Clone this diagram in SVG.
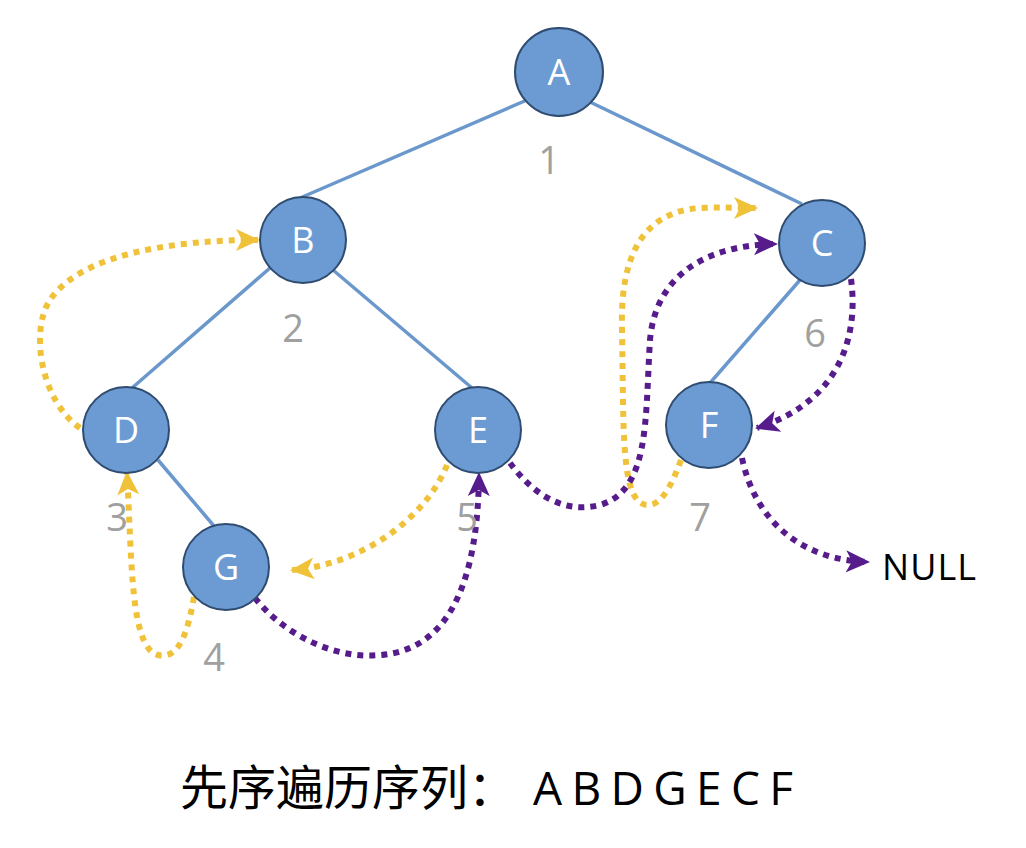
<svg xmlns="http://www.w3.org/2000/svg" width="1026" height="848" viewBox="0 0 1026 848">
<style>
.edge{stroke:#6b98cc;stroke-width:3.5;fill:none}
.node circle{fill:#6b9bd2;stroke:#2f4c70;stroke-width:2}
.node text{fill:#fff;font-family:"Open Sans","Noto Sans",sans-serif;font-size:36px;text-anchor:middle}
.num{fill:#a0a0a0;font-family:"Open Sans","Noto Sans",sans-serif;font-size:38px;text-anchor:middle}
.y{stroke:#f0c23a;stroke-width:6;stroke-dasharray:6 6;fill:none;marker-end:url(#ay)}
.p{stroke:#561c8c;stroke-width:6;stroke-dasharray:6 6;fill:none;marker-end:url(#ap)}
</style>
<defs>
<marker id="ay" markerUnits="userSpaceOnUse" markerWidth="26" markerHeight="24" refX="22" refY="11" orient="auto" viewBox="0 0 26 22">
<path d="M0,0 L24,11 L0,22 L6,11 Z" fill="#f0c23a"/>
</marker>
<marker id="ap" markerUnits="userSpaceOnUse" markerWidth="26" markerHeight="24" refX="22" refY="11" orient="auto" viewBox="0 0 26 22">
<path d="M0,0 L24,11 L0,22 L6,11 Z" fill="#561c8c"/>
</marker>
</defs>
<rect width="1026" height="848" fill="#fff"/>
<g id="edges">
<line class="edge" x1="527" y1="100" x2="300" y2="198"/>
<line class="edge" x1="590" y1="102" x2="802" y2="204"/>
<line class="edge" x1="270" y1="268" x2="132" y2="388"/>
<line class="edge" x1="333" y1="270" x2="472" y2="388"/>
<line class="edge" x1="800" y1="280" x2="710" y2="383"/>
<line class="edge" x1="158" y1="460" x2="214" y2="526"/>
</g>
<g id="connectors">
<path class="y" d="M80,428 C40,400 30,330 50,300 C80,255 170,240 258,240"/>
<path class="y" d="M194,597 C188,630 180,660 158,655 C130,648 132,560 127,473"/>
<path class="y" d="M447,465 C425,520 360,565 292,570"/>
<path class="y" d="M681,460 C670,490 660,505 648,505 C620,505 624,430 622,330 C620,260 640,212 700,208 C720,207 740,208 756,208"/>
<path class="p" d="M255,598 C280,630 330,660 380,655 C450,650 478,580 479,474"/>
<path class="p" d="M510,463 C530,490 560,515 600,505 C650,490 645,420 650,340 C655,280 700,245 776,244"/>
<path class="p" d="M851,279 C858,330 845,400 757,428"/>
<path class="p" d="M742,458 C755,520 800,560 868,562"/>
</g>
<g id="A" class="node"><circle cx="559" cy="72" r="44"/><text x="559" y="85">A</text></g>
<g id="B" class="node"><circle cx="303" cy="240" r="43"/><text x="303" y="253">B</text></g>
<g id="C" class="node"><circle cx="822" cy="243" r="43"/><text x="822" y="256">C</text></g>
<g id="D" class="node"><circle cx="126" cy="430" r="43"/><text x="126" y="443">D</text></g>
<g id="E" class="node"><circle cx="478" cy="430" r="43"/><text x="478" y="443">E</text></g>
<g id="F" class="node"><circle cx="709" cy="425" r="43"/><text x="709" y="438">F</text></g>
<g id="G" class="node"><circle cx="226" cy="567" r="43"/><text x="226" y="580">G</text></g>
<g id="labels">
<text class="num" x="549" y="174">1</text>
<text class="num" x="293" y="342">2</text>
<text class="num" x="117" y="531">3</text>
<text class="num" x="214" y="671">4</text>
<text class="num" x="467" y="531">5</text>
<text class="num" x="815" y="347">6</text>
<text class="num" x="700" y="531">7</text>
<text x="882" y="580" font-family="'Open Sans','Noto Sans',sans-serif" font-size="36" fill="#000" textLength="94">NULL</text>
<text x="180" y="805" font-family="'Noto Sans CJK SC',sans-serif" font-size="48" fill="#000">先序遍历序列：</text>
<text x="533" y="805" font-family="'Open Sans','Noto Sans',sans-serif" font-size="46" fill="#000" textLength="260">A B D G E C F</text>
</g>
</svg>
